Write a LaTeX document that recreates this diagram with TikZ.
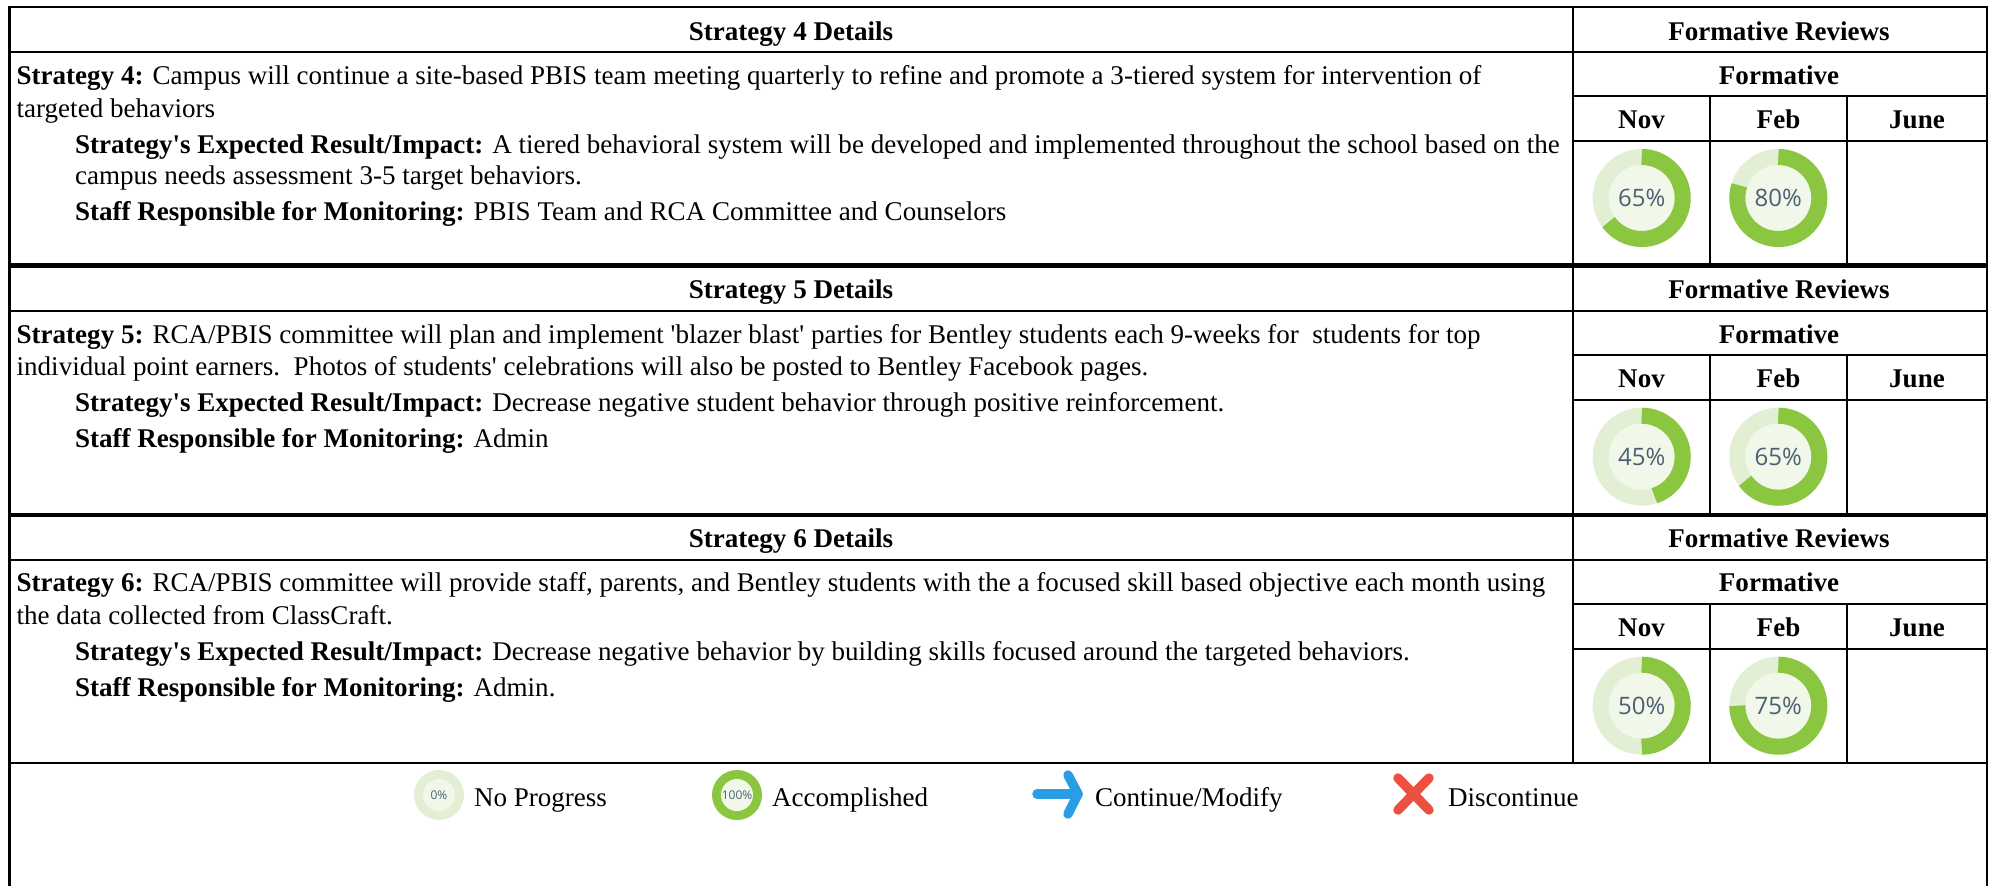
\documentclass[tikz,border=0pt]{standalone}
\usepackage{fontspec}
\newfontfamily\tnr{Liberation Serif}
\newfontfamily\osans{Open Sans}
\definecolor{ringgreen}{HTML}{8AC63F}
\definecolor{ringlight}{HTML}{E2EFD5}
\definecolor{ringinner}{HTML}{F1F8EA}
\definecolor{pcttext}{HTML}{4E5F72}
\definecolor{arrowblue}{HTML}{2B9CE6}
\definecolor{crossred}{HTML}{EC5040}
\newcommand{\rowtable}[9]{%
  % #1 top #2 hdr #3 form #4 nov #5 bottom #6 strategy number #7 hdr base #8 form base #9 nov base
  \draw[rule] (9.5,#1) rectangle (1987,#5);
  \draw[rule] (9.5,#2) -- (1987,#2);
  \draw[rule] (1573,#1) -- (1573,#5);
  \draw[rule] (1573,#3) -- (1987,#3);
  \draw[rule] (1573,#4) -- (1987,#4);
  \draw[rule] (1710,#3) -- (1710,#5);
  \draw[rule] (1847,#3) -- (1847,#5);
  \node[bold,anchor=base] (det#6) at (791,#7) {Strategy #6 Details};
  \node[bold,anchor=base] (rev#6) at (1779,#7) {Formative Reviews};
  \node[bold,anchor=base] (form#6) at (1779,#8) {Formative};
  \node[bold,anchor=base] (nov#6) at (1641.5,#9) {Nov};
  \node[bold,anchor=base] (feb#6) at (1778.5,#9) {Feb};
  \node[bold,anchor=base] (jun#6) at (1917,#9) {June};
}
\newcommand{\donut}[5]{%
  % #1 name #2 x #3 y #4 percent #5 text
  \coordinate (#1) at (#2,#3);
  \fill[ringlight] (#1) circle[radius=49pt];
  \fill[ringinner] (#1) circle[radius=33pt];
  \draw[ringgreen,line width=16pt] ($(#1)+(0,-41)$) arc[start angle=90,delta angle=-3.6*#4,radius=41pt];
  \node[pct] (#1t) at (#1) {#5};
}
\tikzset{
  rule/.style={draw=black,line width=2.2pt},
  txt/.style={inner sep=0pt,outer sep=0pt,font=\tnr\fontsize{27.03}{32}\selectfont,text=black},
  bold/.style={txt,font=\tnr\bfseries\fontsize{27.03}{32}\selectfont},
  line/.style={txt,anchor=base west},
  pct/.style={inner sep=0pt,font=\osans\fontsize{24}{28}\selectfont,text=pcttext},
  pctsmall/.style={inner sep=0pt,font=\osans\fontsize{12}{14}\selectfont,text=pcttext},
}
\usetikzlibrary{calc}
\begin{document}
\begin{tikzpicture}[x=1pt,y=-1pt]
\useasboundingbox (0,0) rectangle (1995,886);
\fill[white] (0,0) rectangle (1995,886);
\rowtable{7}{52}{96}{141}{264.5}{4}{40.5}{84.5}{128.5}
\rowtable{266.7}{310.7}{355}{399.7}{514.5}{5}{298}{343.3}{387}
\rowtable{516}{560}{604.3}{649}{762.7}{6}{547.5}{591.5}{636}
\draw[rule] (9.5,762.7) -- (9.5,886);
\draw[rule] (1987,762.7) -- (1987,886);

\node[line] (s4a) at (16.7,84.5) {\textbf{Strategy 4:} Campus will continue a site-based PBIS team meeting quarterly to refine and promote a 3-tiered system for intervention of};
\node[line] (s4b) at (16.7,117.5) {targeted behaviors};
\node[line] (s4c) at (75,153.2) {\textbf{Strategy's Expected Result/Impact:} A tiered behavioral system will be developed and implemented throughout the school based on the};
\node[line] (s4d) at (75,184.2) {campus needs assessment 3-5 target behaviors.};
\node[line] (s4e) at (75,220) {\textbf{Staff Responsible for Monitoring:} PBIS Team and RCA Committee and Counselors};

\node[line] (s5a) at (16.7,343.2) {\textbf{Strategy 5:} RCA/PBIS committee will plan and implement 'blazer blast' parties for Bentley students each 9-weeks for\ \ students for top};
\node[line] (s5b) at (16.7,375.2) {individual point earners.\ \ Photos of students' celebrations will also be posted to Bentley Facebook pages.};
\node[line] (s5c) at (75,411.5) {\textbf{Strategy's Expected Result/Impact:} Decrease negative student behavior through positive reinforcement.};
\node[line] (s5d) at (75,447.5) {\textbf{Staff Responsible for Monitoring:} Admin};

\node[line] (s6a) at (16.7,591.5) {\textbf{Strategy 6:} RCA/PBIS committee will provide staff, parents, and Bentley students with the a focused skill based objective each month using};
\node[line] (s6b) at (16.7,624) {the data collected from ClassCraft.};
\node[line] (s6c) at (75,660.5) {\textbf{Strategy's Expected Result/Impact:} Decrease negative behavior by building skills focused around the targeted behaviors.};
\node[line] (s6d) at (75,696) {\textbf{Staff Responsible for Monitoring:} Admin.};

\donut{d4n}{1641.7}{198}{65}{65\%}
\donut{d4f}{1778.3}{198}{80}{80\%}
\donut{d5n}{1641.7}{456.7}{45}{45\%}
\donut{d5f}{1778.3}{456.7}{65}{65\%}
\donut{d6n}{1641.7}{705.7}{50}{50\%}
\donut{d6f}{1778.3}{705.7}{75}{75\%}

% legend
\coordinate (lg0) at (439,795);
\fill[ringlight] (lg0) circle[radius=25pt];
\fill[ringinner] (lg0) circle[radius=16pt];
\node[pctsmall] (lg0t) at (lg0) {0\%};
\node[line] (lgnp) at (474,806.7) {No Progress};

\coordinate (lg1) at (737,795);
\fill[ringgreen] (lg1) circle[radius=25pt];
\fill[ringinner] (lg1) circle[radius=16pt];
\node[pctsmall] (lg1t) at (lg1) {100\%};
\node[line] (lgac) at (772,806.7) {Accomplished};

\coordinate (ar0) at (1037,794);
\coordinate (ar1) at (1078,794);
\coordinate (ar2) at (1068,775);
\coordinate (ar3) at (1068,814);
\draw[arrowblue,line width=9.5pt,line cap=round,line join=round] (ar0) -- (ar1);
\draw[arrowblue,line width=9.5pt,line cap=round,line join=round] (ar2) -- (ar1) -- (ar3);
\node[line] (lgcm) at (1095,806.7) {Continue/Modify};

\coordinate (x1) at (1398,778);
\coordinate (x2) at (1429,810);
\coordinate (x3) at (1429,778);
\coordinate (x4) at (1398,810);
\draw[crossred,line width=9.5pt,line cap=round] (x1) -- (x2);
\draw[crossred,line width=9.5pt,line cap=round] (x3) -- (x4);
\node[line] (lgdc) at (1448,806.7) {Discontinue};
\end{tikzpicture}
\end{document}
